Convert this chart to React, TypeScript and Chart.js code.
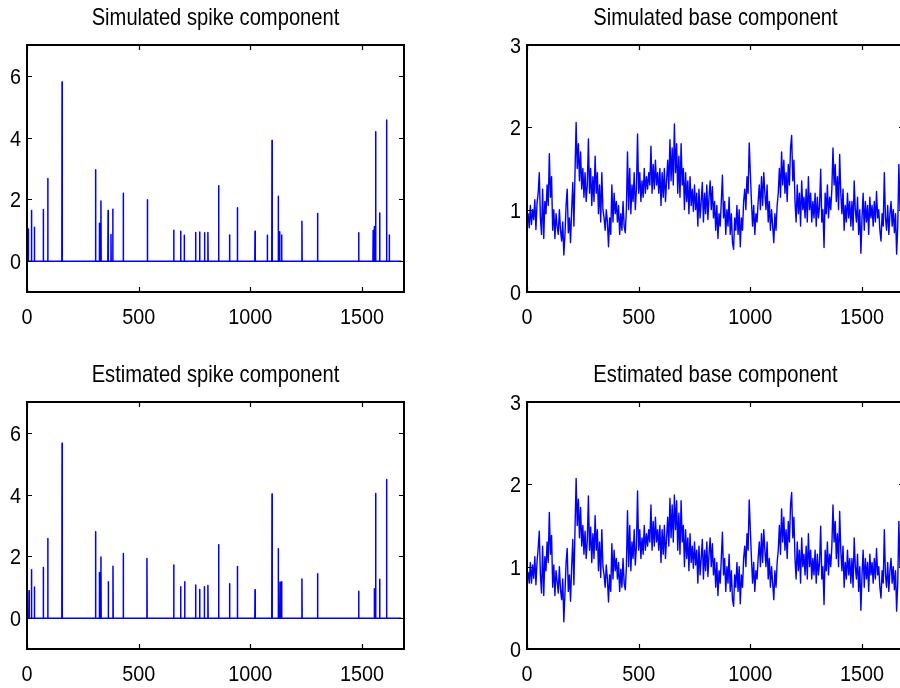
import React, { useEffect, useRef } from "react";
import { Chart, registerables } from "chart.js";

Chart.register(...registerables);

const FONT = '"Liberation Sans", Arial, Helvetica, sans-serif';

// ---- data ----
const xTicks = [0, 500, 1000, 1500];
const xMax = 1688;
const sampleCount = 1677;
const spikeYTicks = [0, 2, 4, 6];
const baseYTicks = [0, 1, 2, 3];
const baseStep = 5;

const simSpikeIdx = [6, 20, 33, 73, 93, 157, 307, 324, 331, 363, 376, 384, 431, 539, 657, 688, 704, 755, 773, 795, 810, 858, 907, 942, 1021, 1076, 1097, 1125, 1131, 1140, 1231, 1301, 1485, 1550, 1555, 1561, 1579, 1610, 1622];
const simSpikeVal = [1.04, 1.64, 1.10, 1.67, 2.68, 5.80, 2.96, 1.23, 1.95, 1.64, 0.86, 1.68, 2.20, 1.99, 1.00, 0.97, 0.84, 0.93, 0.94, 0.92, 0.93, 2.44, 0.85, 1.73, 0.97, 0.84, 3.91, 2.10, 0.95, 0.85, 1.29, 1.54, 0.92, 0.99, 1.12, 4.19, 1.56, 4.57, 0.85];

const estSpikeIdx = [9, 20, 33, 73, 93, 157, 307, 324, 331, 364, 385, 431, 537, 657, 688, 706, 755, 773, 794, 810, 858, 907, 942, 1021, 1097, 1125, 1133, 1140, 1231, 1301, 1485, 1555, 1561, 1579, 1610];
const estSpikeVal = [0.89, 1.57, 1.01, 1.64, 2.58, 5.66, 2.80, 1.48, 1.98, 1.18, 1.68, 2.09, 1.93, 1.72, 1.02, 1.18, 1.07, 0.93, 1.02, 1.06, 2.38, 1.11, 1.67, 0.92, 4.02, 2.25, 1.16, 1.18, 1.27, 1.44, 0.87, 0.95, 4.04, 1.26, 4.49];

const simBase = [
  0.85, 0.95, 0.78, 1.05, 0.82, 1.0, 0.88, 1.12, 0.76, 1.08,
  1.2, 1.45, 0.9, 0.7, 1.25, 0.65, 1.1, 0.95, 1.3, 1.05,
  1.68, 1.15, 1.4, 0.75, 1.0, 0.65, 0.95, 0.8, 0.7, 1.0,
  0.75, 0.62, 0.85, 0.45, 0.7, 1.05, 1.25, 0.72, 0.9, 0.6,
  1.0, 1.33, 0.8, 1.45, 2.06, 1.5, 1.8, 1.35, 1.7, 1.25,
  1.5, 1.15, 1.45, 1.1, 1.3, 1.86, 1.2, 1.5, 1.05, 1.4,
  1.1, 1.65, 1.2, 1.45, 0.95, 1.3, 0.85, 1.45, 1.0, 0.9,
  0.75, 1.0, 0.85, 0.55, 0.9, 0.7, 1.3, 0.85, 1.2, 0.95,
  1.1, 0.85, 1.05, 0.7, 0.95, 0.75, 1.1, 0.8, 0.72, 1.0,
  1.7, 1.0, 1.5, 0.95, 1.3, 1.1, 1.45, 1.0, 1.25, 1.92,
  1.2, 1.45, 1.1, 1.35, 1.15, 1.5, 1.2, 1.4, 1.25, 1.45,
  1.3, 1.77, 1.2, 1.55, 1.25, 1.6, 1.3, 1.45, 1.2, 1.5,
  1.05, 1.45, 1.15, 1.5, 1.1, 1.35, 1.6, 1.25, 1.85, 1.35,
  1.75, 1.3, 2.04, 1.45, 1.8, 1.2, 1.65, 1.15, 1.8, 1.3,
  1.5, 1.0, 1.45, 1.1, 1.35, 0.95, 1.4, 1.05, 1.25, 0.98,
  1.3, 1.0, 1.2, 0.8, 1.25, 0.9, 1.1, 1.33, 0.85, 1.2,
  0.95, 1.3, 0.88, 1.15, 1.35, 1.0, 1.28, 0.9, 1.1, 0.75,
  1.05, 0.65, 0.95, 0.8, 1.1, 1.42, 0.9, 1.1, 0.7, 1.0,
  0.8, 1.15, 0.7, 0.95, 0.6, 0.52, 0.9, 0.75, 1.05, 0.7,
  1.0, 0.55, 0.9, 0.75, 1.1, 1.25, 1.0, 1.4, 1.2, 1.81,
  1.45, 1.1, 0.8, 1.05, 0.7, 0.95, 0.85, 1.1, 1.3, 1.0,
  1.4, 1.05, 1.45, 1.2, 1.0, 1.3, 0.85, 1.1, 0.75, 1.0,
  0.8, 0.6, 0.95, 0.75, 1.05, 1.2, 1.5, 1.15, 1.7, 1.3,
  1.6, 1.2, 1.45, 1.1, 1.55, 1.3, 1.75, 1.9, 1.35, 1.6,
  1.1, 0.85, 1.3, 0.95, 1.2, 0.8, 1.35, 1.0, 1.15, 0.9,
  1.25, 0.85, 1.4, 1.0, 1.2, 0.85, 1.1, 0.9, 1.2, 0.8,
  1.15, 0.9, 1.05, 1.49, 0.85, 1.0, 0.54, 1.2, 0.95, 1.3,
  0.9, 1.15, 1.0, 1.25, 1.75, 1.3, 1.55, 1.1, 1.4, 1.0,
  1.67, 1.2, 0.95, 1.25, 0.75, 1.05, 0.85, 1.2, 0.9, 1.1,
  0.8, 1.1, 0.75, 1.35, 1.0, 0.85, 1.15, 0.7, 1.0, 0.47,
  0.9, 1.2, 0.75, 1.1, 0.85, 1.05, 0.7, 1.15, 0.9, 1.05,
  0.8, 1.1, 0.85, 1.22, 0.9, 1.0, 0.75, 0.62, 0.95, 0.8,
  1.45, 0.9, 0.75, 1.05, 0.7, 0.95, 1.1, 0.8, 1.0, 0.72,
  0.95, 0.46, 0.8, 1.55, 1.0, 1.3,
];

const estBase = [
  0.88, 0.93, 0.8, 1.05, 0.8, 1.02, 0.86, 1.12, 0.78, 1.06,
  1.22, 1.43, 0.9, 0.68, 1.25, 0.65, 1.12, 0.95, 1.3, 1.05,
  1.66, 1.15, 1.38, 0.75, 1.02, 0.65, 0.95, 0.82, 0.68, 1.0,
  0.72, 0.6, 0.85, 0.33, 0.68, 1.05, 1.22, 0.7, 0.9, 0.58,
  1.0, 1.33, 0.78, 1.45, 2.07, 1.5, 1.82, 1.35, 1.72, 1.25,
  1.5, 1.15, 1.43, 1.1, 1.32, 1.86, 1.2, 1.48, 1.05, 1.4,
  1.1, 1.62, 1.2, 1.45, 0.95, 1.3, 0.87, 1.45, 1.0, 0.9,
  0.75, 1.02, 0.85, 0.57, 0.9, 0.7, 1.28, 0.85, 1.2, 0.95,
  1.1, 0.85, 1.05, 0.7, 0.97, 0.75, 1.1, 0.8, 0.72, 1.0,
  1.68, 1.0, 1.5, 0.95, 1.3, 1.1, 1.45, 1.02, 1.25, 1.92,
  1.2, 1.45, 1.1, 1.35, 1.15, 1.5, 1.2, 1.4, 1.25, 1.45,
  1.3, 1.75, 1.2, 1.55, 1.25, 1.6, 1.3, 1.45, 1.2, 1.5,
  1.05, 1.45, 1.15, 1.5, 1.1, 1.35, 1.6, 1.25, 1.83, 1.35,
  1.75, 1.3, 1.87, 1.45, 1.8, 1.2, 1.65, 1.15, 1.8, 1.3,
  1.5, 1.0, 1.45, 1.1, 1.35, 0.95, 1.4, 1.05, 1.25, 0.98,
  1.3, 1.02, 1.2, 0.8, 1.25, 0.9, 1.1, 1.33, 0.85, 1.2,
  0.95, 1.3, 0.88, 1.15, 1.35, 1.0, 1.28, 0.9, 1.1, 0.75,
  1.05, 0.65, 0.95, 0.8, 1.1, 1.42, 0.9, 1.1, 0.7, 1.0,
  0.8, 1.15, 0.7, 0.95, 0.6, 0.52, 0.9, 0.75, 1.05, 0.7,
  1.0, 0.55, 0.9, 0.75, 1.1, 1.25, 1.0, 1.4, 1.2, 1.81,
  1.45, 1.1, 0.8, 1.05, 0.7, 0.95, 0.85, 1.1, 1.3, 1.0,
  1.4, 1.05, 1.45, 1.2, 1.0, 1.3, 0.85, 1.1, 0.75, 1.0,
  0.8, 0.6, 0.95, 0.75, 1.05, 1.2, 1.5, 1.15, 1.7, 1.3,
  1.6, 1.2, 1.45, 1.1, 1.55, 1.3, 1.75, 1.9, 1.35, 1.6,
  1.1, 0.85, 1.3, 0.95, 1.2, 0.8, 1.35, 1.0, 1.15, 0.9,
  1.25, 0.85, 1.4, 1.0, 1.2, 0.85, 1.1, 0.9, 1.2, 0.8,
  1.15, 0.9, 1.05, 1.49, 0.85, 1.0, 0.54, 1.2, 0.95, 1.3,
  0.9, 1.15, 1.0, 1.25, 1.75, 1.3, 1.55, 1.1, 1.4, 1.0,
  1.67, 1.2, 0.95, 1.25, 0.75, 1.05, 0.85, 1.2, 0.9, 1.1,
  0.8, 1.1, 0.75, 1.35, 1.0, 0.85, 1.15, 0.7, 1.0, 0.47,
  0.9, 1.2, 0.75, 1.1, 0.85, 1.05, 0.7, 1.15, 0.9, 1.05,
  0.8, 1.1, 0.85, 1.22, 0.9, 1.0, 0.75, 0.62, 0.95, 0.8,
  1.45, 0.9, 0.75, 1.05, 0.7, 0.95, 1.1, 0.8, 1.0, 0.72,
  0.95, 0.46, 0.8, 1.55, 1.0, 1.3,
];

// ---- builders ----
function spikeSeries(idx: number[], val: number[]) {
  const pts: { x: number; y: number }[] = [{ x: 0, y: 0 }];
  idx.forEach((p, i) => {
    pts.push({ x: p - 1, y: 0 }, { x: p, y: val[i] }, { x: p + 1, y: 0 });
  });
  pts.push({ x: sampleCount - 1, y: 0 });
  return pts;
}

function baseSeries(vals: number[]) {
  return vals.map((v, i) => ({ x: i * baseStep, y: v }));
}

function scaledText(ctx: CanvasRenderingContext2D, text: string, x: number, y: number, align: CanvasTextAlign, sx: number) {
  ctx.save();
  ctx.translate(x, y);
  ctx.scale(sx, 1);
  ctx.textAlign = align;
  ctx.textBaseline = "alphabetic";
  ctx.fillText(text, 0, 0);
  ctx.restore();
}

const matlabAxes = {
  id: "matlabAxes",
  afterDraw(chart: any, _args: any, opts: any) {
    const { ctx, chartArea: a, scales } = chart;
    ctx.save();
    ctx.strokeStyle = "#000";
    ctx.lineWidth = 1.2;
    const L = 5;
    ctx.beginPath();
    for (const t of scales.x.ticks) {
      const px = Math.round(scales.x.getPixelForValue(t.value)) + 0.5;
      ctx.moveTo(px, a.bottom);
      ctx.lineTo(px, a.bottom - L);
      ctx.moveTo(px, a.top);
      ctx.lineTo(px, a.top + L);
    }
    for (const t of scales.y.ticks) {
      const py = Math.round(scales.y.getPixelForValue(t.value)) + 0.5;
      ctx.moveTo(a.left, py);
      ctx.lineTo(a.left + L, py);
      ctx.moveTo(a.right, py);
      ctx.lineTo(a.right - L, py);
    }
    ctx.stroke();
    ctx.lineWidth = 2;
    ctx.strokeRect(a.left, a.top, a.right - a.left, a.bottom - a.top);

    // tick labels (condensed Helvetica look)
    ctx.fillStyle = "#000";
    ctx.font = `22px ${FONT}`;
    for (const t of scales.x.ticks) {
      const px = scales.x.getPixelForValue(t.value);
      scaledText(ctx, String(t.value), px, a.bottom + 32, "center", 0.9);
    }
    for (const t of scales.y.ticks) {
      const py = scales.y.getPixelForValue(t.value);
      scaledText(ctx, String(t.value), a.left - 6, py + 8, "right", 0.9);
    }

    // title
    ctx.font = `24px ${FONT}`;
    scaledText(ctx, opts.title, (a.left + a.right) / 2, a.top - 20, "center", 0.84);
    ctx.restore();
  },
};

type PanelProps = {
  left: number;
  top: number;
  width: number;
  height: number;
  data: { x: number; y: number }[];
  yMin: number;
  yMax: number;
  yTicks: number[];
  yWidth: number;
  padRight: number;
  title: string;
  lineWidth: number;
};

function Panel(p: PanelProps) {
  const ref = useRef<HTMLCanvasElement | null>(null);
  useEffect(() => {
    if (!ref.current) return;
    const chart = new Chart(ref.current, {
      type: "line",
      data: {
        datasets: [
          {
            data: p.data,
            borderColor: "#0000ff",
            borderWidth: p.lineWidth,
            pointRadius: 0,
            fill: false,
            tension: 0,
            borderJoinStyle: "round",
          } as any,
        ],
      },
      options: {
        animation: false,
        responsive: false,
        events: [],
        parsing: false,
        layout: { padding: { top: 45, right: p.padRight, bottom: 0, left: 0 } },
        plugins: {
          legend: { display: false },
          tooltip: { enabled: false },
          matlabAxes: { title: p.title },
        } as any,
        scales: {
          x: {
            type: "linear",
            min: 0,
            max: xMax,
            afterBuildTicks: (s: any) => {
              s.ticks = xTicks.map((v) => ({ value: v }));
            },
            afterFit: (s: any) => {
              s.height = 52;
            },
            grid: { display: false },
            border: { display: false },
            ticks: { display: false },
          },
          y: {
            type: "linear",
            min: p.yMin,
            max: p.yMax,
            afterBuildTicks: (s: any) => {
              s.ticks = p.yTicks.map((v) => ({ value: v }));
            },
            afterFit: (s: any) => {
              s.width = p.yWidth;
            },
            grid: { display: false },
            border: { display: false },
            ticks: { display: false },
          },
        },
      } as any,
      plugins: [matlabAxes as any],
    });
    return () => chart.destroy();
  }, []);
  return (
    <canvas
      ref={ref}
      width={p.width}
      height={p.height}
      style={{ position: "absolute", left: p.left, top: p.top, width: p.width, height: p.height }}
    />
  );
}

export default function App() {
  return (
    <div
      style={{
        position: "fixed",
        left: 0,
        top: 0,
        width: 900,
        height: 688,
        overflow: "hidden",
        background: "#fff",
      }}
    >
      <Panel left={0} top={0} width={450} height={344} data={spikeSeries(simSpikeIdx, simSpikeVal)}
        yMin={-1} yMax={7} yTicks={spikeYTicks} yWidth={27} padRight={46} title="Simulated spike component" lineWidth={1.5} />
      <Panel left={450} top={0} width={460} height={344} data={baseSeries(simBase)}
        yMin={0} yMax={3} yTicks={baseYTicks} yWidth={77} padRight={6} title="Simulated base component" lineWidth={1.4} />
      <Panel left={0} top={357} width={450} height={344} data={spikeSeries(estSpikeIdx, estSpikeVal)}
        yMin={-1} yMax={7} yTicks={spikeYTicks} yWidth={27} padRight={46} title="Estimated spike component" lineWidth={1.5} />
      <Panel left={450} top={357} width={460} height={344} data={baseSeries(estBase)}
        yMin={0} yMax={3} yTicks={baseYTicks} yWidth={77} padRight={6} title="Estimated base component" lineWidth={1.4} />
    </div>
  );
}
